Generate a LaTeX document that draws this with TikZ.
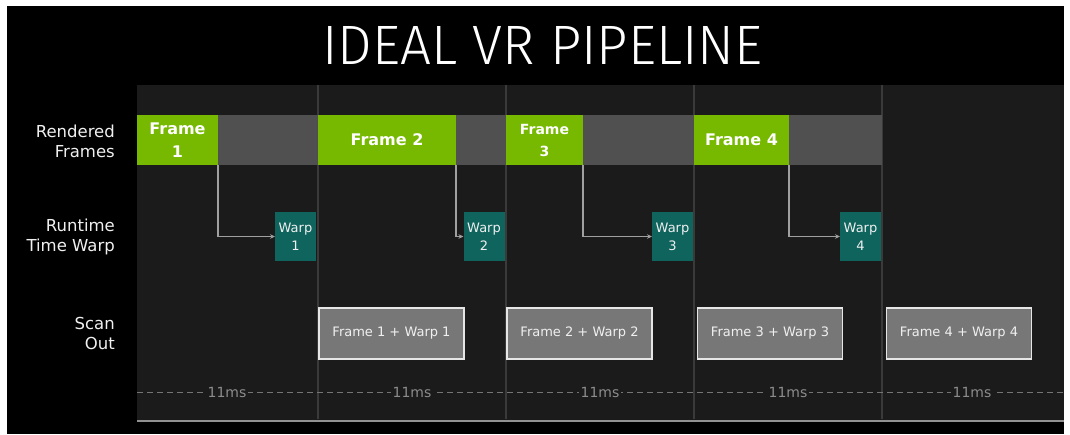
\documentclass[tikz,border=0pt]{standalone}
\usepackage{graphicx}
\usepackage{fontspec}
\setmainfont{DejaVu Sans}
\newfontfamily\titlefont{Fira Sans Light}
\usetikzlibrary{arrows.meta}

\definecolor{nvgreen}{HTML}{76B900}
\definecolor{plotbg}{HTML}{1B1B1B}
\definecolor{barfill}{HTML}{505050}
\definecolor{divline}{HTML}{3A3A3A}
\definecolor{warpfill}{HTML}{0F645E}
\definecolor{scanfill}{HTML}{777777}
\definecolor{scanedge}{HTML}{E6E6E6}
\definecolor{conncol}{HTML}{A0A0A0}
\definecolor{msgray}{HTML}{8C8C8C}
\definecolor{labelcol}{HTML}{F0F0F0}

\tikzset{
  box/.style={rectangle, inner sep=0pt, outer sep=0pt},
  framebox/.style={box, fill=nvgreen, minimum height=50pt, text=white, align=center,
    font=\bfseries\fontsize{16}{23}\selectfont},
  idlebar/.style={box, fill=barfill, minimum height=50pt},
  warpbox/.style={box, fill=warpfill, minimum width=41pt, minimum height=49pt,
    text=labelcol, align=center, font=\fontsize{13}{18}\selectfont},
  scanbox/.style={box, fill=scanfill, draw=scanedge, line width=1.5pt,
    minimum width=145pt, minimum height=51pt, text=labelcol,
    font=\fontsize{13}{16}\selectfont},
  rowlabel/.style={anchor=east, align=right, text=labelcol, inner sep=0pt,
    font=\fontsize{16.5}{20}\selectfont},
  mslabel/.style={fill=plotbg, text=msgray, inner sep=2pt,
    font=\fontsize{14}{16}\selectfont},
  divider/.style={draw=divline, line width=2pt},
  link/.style={draw=conncol, line width=1.2pt, -{Stealth[length=5pt,width=4.5pt]}},
}

\begin{document}
\begin{tikzpicture}[x=1pt, y=-1pt]
  \useasboundingbox (0,0) rectangle (1070,434);
  % page and panel
  \fill[white] (0,0) rectangle (1070,434);
  \fill[black] (7,6) rectangle (1064,434);
  \fill[plotbg] (137,85) rectangle (1064,420);

  % title
  \node[inner sep=0pt, text=white] (title) at (542.5,45)
    {\resizebox{440pt}{38pt}{\titlefont IDEAL VR PIPELINE}};

  % slot dividers
  \foreach \xx in {318,506,694,882}
    \draw[divider] (\xx,85) -- (\xx,419);

  % row labels
  \node[rowlabel] (lrender) at (115,141) {Rendered\\Frames};
  \node[rowlabel] (lwarp)   at (115,237) {Runtime\\Time Warp};
  \node[rowlabel] (lscan)   at (115,333) {Scan\\Out};

  % rendered frames and idle time
  \node[framebox, minimum width=81pt]  (f1) at (177.5,140) {Frame\\1};
  \node[idlebar,  minimum width=100pt] (g1) at (268,140) {};
  \node[framebox, minimum width=138pt] (f2) at (387,140) {Frame 2};
  \node[idlebar,  minimum width=50pt]  (g2) at (481,140) {};
  \node[framebox, minimum width=77pt, font=\bfseries\fontsize{14}{22}\selectfont]
                                       (f3) at (544.5,140) {Frame\\3};
  \node[idlebar,  minimum width=111pt] (g3) at (638.5,140) {};
  \node[framebox, minimum width=95pt]  (f4) at (741.5,140) {Frame 4};
  \node[idlebar,  minimum width=93pt]  (g4) at (835.5,140) {};

  % time warp passes
  \node[warpbox] (w1) at (295.5,236.5) {Warp\\1};
  \node[warpbox] (w2) at (484,236.5)   {Warp\\2};
  \node[warpbox] (w3) at (672.5,236.5) {Warp\\3};
  \node[warpbox] (w4) at (860.5,236.5) {Warp\\4};

  % frame-to-warp hand-offs
  \draw[link] (g1.south west) |- (w1.west);
  \draw[link] (g2.south west) |- (w2.west);
  \draw[link] (g3.south west) |- (w3.west);
  \draw[link] (g4.south west) |- (w4.west);

  % scan out
  \node[scanbox] (s1) at (391.5,333.5) {Frame 1 + Warp 1};
  \node[scanbox] (s2) at (579.5,333.5) {Frame 2 + Warp 2};
  \node[scanbox] (s3) at (770,333.5)   {Frame 3 + Warp 3};
  \node[scanbox] (s4) at (959,333.5)   {Frame 4 + Warp 4};

  % 11ms timing guide
  \draw[draw=msgray!80!plotbg, line width=1pt, dash pattern=on 6pt off 4pt]
    (137,392) -- (1063,392);
  \foreach \xx/\nm in {227/m1,412/m2,600/m3,788/m4,972/m5}
    \node[mslabel] (\nm) at (\xx,392) {11ms};

  % baseline
  \draw[draw=conncol!90!black, line width=2pt] (137,421) -- (1064,421);
\end{tikzpicture}
\end{document}
